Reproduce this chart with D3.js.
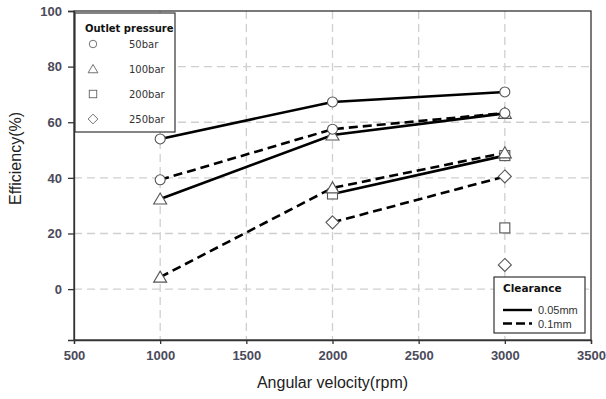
<!DOCTYPE html>
<html><head><meta charset="utf-8">
<script src="https://cdn.jsdelivr.net/npm/d3@7"></script>
<style>body{margin:0;background:#fff}svg{display:block}</style>
</head><body>
<script>
const rpm = [1000, 2000, 3000];
const xTicks = [500, 1000, 1500, 2000, 2500, 3000, 3500];
const yTicks = [0, 20, 40, 60, 80, 100];
const pressures = ["50bar", "100bar", "200bar", "250bar"];
const clearances = ["0.05mm", "0.1mm"];
// efficiency (%) at 1000, 2000, 3000 rpm; null = no point
const s005_50 = [54, 67.3, 70.9];
const s005_100 = [32.4, 55.4, 63.2];
const s005_200 = [null, 34.2, 48];
const s005_250 = [null, null, 8.7];
const s01_50 = [39.3, 57.5, 63.3];
const s01_100 = [4.3, 36.4, 49];
const s01_200 = [null, null, 22];
const s01_250 = [null, 24, 40.5];

const series = [
  {p: 0, c: 0, v: s005_50}, {p: 1, c: 0, v: s005_100}, {p: 2, c: 0, v: s005_200}, {p: 3, c: 0, v: s005_250},
  {p: 0, c: 1, v: s01_50}, {p: 1, c: 1, v: s01_100}, {p: 2, c: 1, v: s01_200}, {p: 3, c: 1, v: s01_250}
];

const W = 606, H = 399;
const L = 74, R = 591, T = 11, B = 340;
const svg = d3.select("body").append("svg").attr("width", W).attr("height", H);
const x = d3.scaleLinear().domain([500, 3500]).range([L, R]);
const y = d3.scaleLinear().domain([-18.3, 100]).range([B, T]);

// grid
const g = svg.append("g");
g.selectAll(".gx").data(xTicks.slice(1, -1)).join("line")
  .attr("x1", d => x(d)).attr("x2", d => x(d)).attr("y1", T).attr("y2", B)
  .attr("stroke", "#cfcfcf").attr("stroke-width", 1.3).attr("stroke-dasharray", "8,5");
g.selectAll(".gy").data(yTicks.slice(0, -1)).join("line")
  .attr("x1", L).attr("x2", R).attr("y1", d => y(d)).attr("y2", d => y(d))
  .attr("stroke", "#cfcfcf").attr("stroke-width", 1.3).attr("stroke-dasharray", "8,5");

// frame
svg.append("rect").attr("x", L).attr("y", T).attr("width", R - L).attr("height", B - T)
  .attr("fill", "none").attr("stroke", "#333").attr("stroke-width", 1.3);

// axes
const tickFont = "Arial, 'Liberation Sans', sans-serif";
const xa = svg.append("g").attr("transform", `translate(0,${B})`)
  .call(d3.axisBottom(x).tickValues(xTicks).tickSize(4).tickPadding(7).tickFormat(d3.format("d")));
const ya = svg.append("g").attr("transform", `translate(${L},0)`)
  .call(d3.axisLeft(y).tickValues(yTicks).tickSize(6).tickPadding(6).tickFormat(d3.format("d")));
[xa, ya].forEach(a => {
  a.select(".domain").attr("stroke", "#333").attr("stroke-width", 1.3);
  a.selectAll(".tick line").attr("stroke", "#333").attr("stroke-width", 1.3);
  a.selectAll("text").attr("font-family", tickFont).attr("font-size", 13)
    .attr("font-weight", "bold").attr("fill", "#4a4a5a");
});

svg.append("text").attr("x", (L + R) / 2).attr("y", 388).attr("text-anchor", "middle")
  .attr("font-family", "Arial, 'Liberation Sans', sans-serif").attr("font-size", 16).attr("fill", "#222")
  .text("Angular velocity(rpm)");
svg.append("text").attr("transform", `translate(21,${(T + B) / 2 - 17}) rotate(-90)`).attr("text-anchor", "middle")
  .attr("font-family", "Arial, 'Liberation Sans', sans-serif").attr("font-size", 16).attr("fill", "#222")
  .text("Efficiency(%)");

// lines
const dashes = [null, "9,5"];
const line = d3.line().defined(d => d.v != null).x(d => x(d.r)).y(d => y(d.v));
series.forEach(s => {
  const pts = s.v.map((v, i) => ({r: rpm[i], v}));
  svg.append("path").datum(pts).attr("d", line).attr("fill", "none")
    .attr("stroke", "#000").attr("stroke-width", 2.6).attr("stroke-dasharray", dashes[s.c]);
});

// markers
function marker(sel, p, cx, cy) {
  let el;
  if (p === 0) el = sel.append("circle").attr("cx", cx).attr("cy", cy).attr("r", 5);
  else if (p === 1) el = sel.append("path").attr("d", `M${cx},${cy - 6}L${cx + 6.5},${cy + 5}L${cx - 6.5},${cy + 5}Z`);
  else if (p === 2) el = sel.append("rect").attr("x", cx - 5).attr("y", cy - 5).attr("width", 10).attr("height", 10);
  else el = sel.append("path").attr("d", `M${cx},${cy - 6.5}L${cx + 6.5},${cy}L${cx},${cy + 6.5}L${cx - 6.5},${cy}Z`);
  el.attr("fill", "#fff").attr("stroke", "#555").attr("stroke-width", 1.1);
}
series.forEach(s => s.v.forEach((v, i) => { if (v != null) marker(svg, s.p, x(rpm[i]), y(v)); }));

// legend 1
const lg = svg.append("g");
lg.append("rect").attr("x", 75).attr("y", 13).attr("width", 100).attr("height", 119)
  .attr("fill", "#fff").attr("stroke", "#333").attr("stroke-width", 1.2);
lg.append("text").attr("x", 85).attr("y", 32).attr("font-family", "Tahoma, 'DejaVu Sans', sans-serif")
  .attr("font-size", 10).attr("font-weight", "bold").attr("fill", "#111").text("Outlet pressure");
pressures.forEach((p, i) => {
  const cy = 44 + i * 25;
  const ms = lg.append("g").attr("transform", `translate(${93},${cy}) scale(0.75) translate(${-93},${-cy})`);
  marker(ms, i, 93, cy);
  lg.append("text").attr("x", 129).attr("y", cy + 4).attr("font-family", "Tahoma, 'DejaVu Sans', sans-serif")
    .attr("font-size", 10).attr("fill", "#333").text(p);
});

// legend 2
const lg2 = svg.append("g");
lg2.append("rect").attr("x", 494).attr("y", 277).attr("width", 91).attr("height", 56)
  .attr("fill", "#fff").attr("stroke", "#333").attr("stroke-width", 1.2);
lg2.append("text").attr("x", 503).attr("y", 292).attr("font-family", "Tahoma, 'DejaVu Sans', sans-serif")
  .attr("font-size", 10.5).attr("font-weight", "bold").attr("fill", "#111").text("Clearance");
clearances.forEach((c, i) => {
  const cy = 310 + i * 13.5;
  lg2.append("line").attr("x1", 503).attr("x2", 532).attr("y1", cy).attr("y2", cy)
    .attr("stroke", "#000").attr("stroke-width", 2.4).attr("stroke-dasharray", i ? "9,4" : null);
  lg2.append("text").attr("x", 538).attr("y", cy + 4).attr("font-family", "Arial, 'Liberation Sans', sans-serif")
    .attr("font-size", 11).attr("fill", "#333").text(c);
});
</script>
</body></html>
